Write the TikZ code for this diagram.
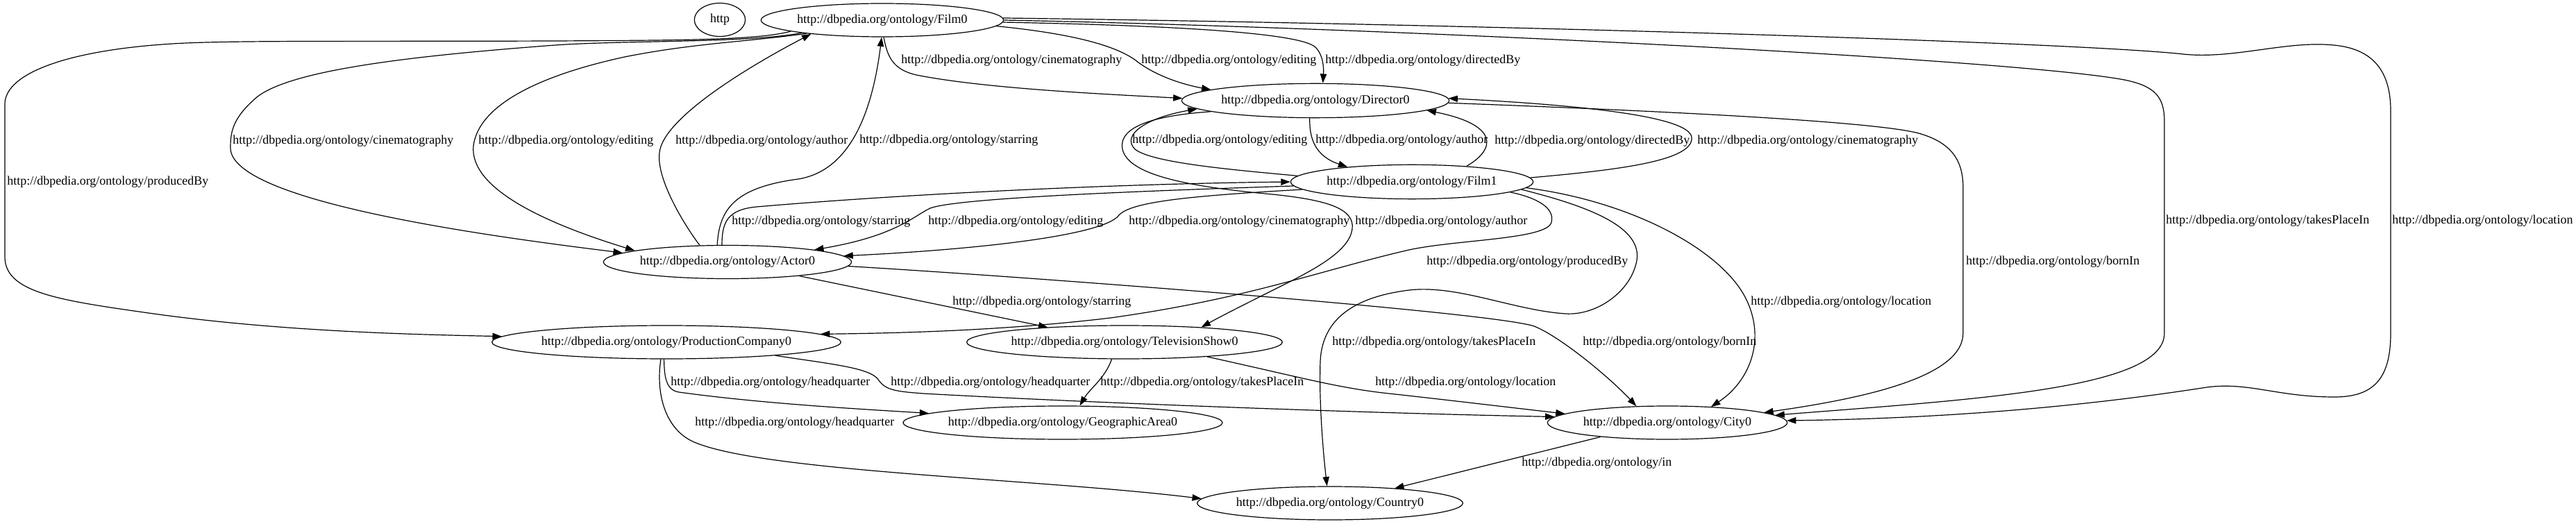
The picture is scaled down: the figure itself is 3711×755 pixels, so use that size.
\documentclass[tikz,border=0pt]{standalone}
\usepackage{fontspec}
\setmainfont{Liberation Serif}
\usetikzlibrary{arrows.meta,shapes.geometric}
\begin{document}
\begin{tikzpicture}[x=0.75pt,y=-0.75pt,
  nd/.style={draw,ellipse,inner xsep=-20pt,inner ysep=0pt,minimum height=36pt,line width=0.9pt,font=\fontsize{13.5}{16}\selectfont},
  lab/.style={anchor=west,inner sep=0pt,font=\fontsize{13.5}{16}\selectfont},
  conn/.style={draw,line width=0.9pt,-{Triangle[length=10pt,width=7pt]}}]
\fill[white] (0,0) rectangle (3711,755);
\useasboundingbox (0,0) rectangle (3711,755);
% nodes
\node[nd,minimum width=55pt] (http) at (1037,28.5) {http};
\node[nd,minimum width=262pt] (Film0) at (1271,29) {http://dbpedia.org/ontology/Film0};
\node[nd,minimum width=289pt,minimum height=37pt] (Director0) at (1895,145) {http://dbpedia.org/ontology/Director0};
\node[nd,minimum width=262pt,minimum height=37pt] (Film1) at (2034,262) {http://dbpedia.org/ontology/Film1};
\node[nd,minimum width=268pt] (Actor0) at (1048,377.5) {http://dbpedia.org/ontology/Actor0};
\node[nd,minimum width=377pt] (ProductionCompany0) at (960,493) {http://dbpedia.org/ontology/ProductionCompany0};
\node[nd,minimum width=341pt] (TelevisionShow0) at (1620,493) {http://dbpedia.org/ontology/TelevisionShow0};
\node[nd,minimum width=345pt] (GeographicArea0) at (1531,609) {http://dbpedia.org/ontology/GeographicArea0};
\node[nd,minimum width=259pt] (City0) at (2402,609) {http://dbpedia.org/ontology/City0};
\node[nd,minimum width=287pt] (Country0) at (1916,725) {http://dbpedia.org/ontology/Country0};
% edges from Film0
\draw[conn] (Film0.275) .. controls (1278,80) and (1285,100) .. (1320,108) .. controls (1420,128) and (1600,136) .. (Director0.179);
\node[lab] (l1) at (1298,87) {http://dbpedia.org/ontology/cinematography};
\draw[conn] (Film0.357) .. controls (1540,48) and (1610,65) .. (1640,90) .. controls (1670,112) and (1710,123) .. (Director0.174);
\node[lab] (l2) at (1644,87) {http://dbpedia.org/ontology/editing};
\draw[conn] (Film0.359) .. controls (1650,36) and (1870,45) .. (1895,68) .. controls (1907,80) and (1907,100) .. (Director0.67);
\node[lab] (l3) at (1909,87) {http://dbpedia.org/ontology/directedBy};
\draw[conn] (Film0.0) .. controls (2000,40) and (2900,85) .. (3060,115) .. controls (3105,124) and (3118,140) .. (3118,175) -- (3118,480) .. controls (3118,560) and (2850,575) .. (City0.4);
\node[lab] (l4) at (3120,318) {http://dbpedia.org/ontology/takesPlaceIn};
\draw[conn] (Film0.1) .. controls (2200,36) and (3000,62) .. (3145,78) .. controls (3220,86) and (3300,56) .. (3370,66) .. controls (3425,74) and (3444,110) .. (3444,160) -- (3444,480) .. controls (3444,545) and (3420,572) .. (3363,572) .. controls (3280,572) and (3240,550) .. (3179,558) .. controls (3000,586) and (2800,603) .. (City0.1);
\node[lab] (l5) at (3446,318) {http://dbpedia.org/ontology/location};
\draw[conn] (Film0.187) .. controls (1090,58) and (980,58) .. (800,59) .. controls (500,60) and (330,58) .. (249,63) .. controls (100,72) and (7,105) .. (7,150) -- (7,370) .. controls (7,420) and (80,432) .. (207,450) .. controls (400,478) and (600,482) .. (ProductionCompany0.178);
\node[lab] (l6) at (10,262) {http://dbpedia.org/ontology/producedBy};
\draw[conn] (Film0.189) .. controls (1080,62) and (900,58) .. (800,65) .. controls (600,80) and (420,100) .. (370,140) .. controls (335,170) and (332,190) .. (332,213) .. controls (332,290) and (700,340) .. (Actor0.175);
\node[lab] (l7) at (335,203) {http://dbpedia.org/ontology/cinematography};
\draw[conn] (Film0.190) .. controls (1080,60) and (1000,62) .. (900,82) .. controls (780,108) and (690,150) .. (682,210) .. controls (676,270) and (780,320) .. (Actor0.173);
\node[lab] (l8) at (689,203) {http://dbpedia.org/ontology/editing};
% Actor0 to Film0
\draw[conn] (Actor0.149) .. controls (990,330) and (945,260) .. (950,220) .. controls (955,170) and (1080,95) .. (Film0.191);
\node[lab] (l9) at (973,203) {http://dbpedia.org/ontology/author};
\draw[conn] (Actor0.121) .. controls (1036,300) and (1060,270) .. (1150,258) .. controls (1230,245) and (1258,150) .. (Film0.268);
\node[lab] (l10) at (1238,202) {http://dbpedia.org/ontology/starring};
% Director0 / Film1
\draw[conn] (Director0.252) .. controls (1886,200) and (1895,225) .. (Film1.167);
\node[lab] (l11) at (1895,202) {http://dbpedia.org/ontology/author};
\draw[conn] (Film1.177) .. controls (1780,245) and (1660,235) .. (1635,215) .. controls (1615,195) and (1650,170) .. (Director0.184);
\node[lab] (l12) at (1631,202) {http://dbpedia.org/ontology/editing};
\draw[conn] (Director0.186) .. controls (1640,168) and (1612,190) .. (1617,215) .. controls (1625,250) and (1700,268) .. (1833,280) .. controls (1910,288) and (1952,300) .. (1948,330) .. controls (1944,360) and (1900,385) .. (1850,410) .. controls (1800,435) and (1760,455) .. (TelevisionShow0.11);
\node[lab] (l13) at (1952,319) {http://dbpedia.org/ontology/author};
\draw[conn] (Film1.16) .. controls (2155,215) and (2160,180) .. (Director0.355);
\node[lab] (l14) at (2153,203) {http://dbpedia.org/ontology/directedBy};
\draw[conn] (Film1.2) .. controls (2330,245) and (2440,232) .. (2437,198) .. controls (2434,165) and (2250,150) .. (Director0.1);
\node[lab] (l15) at (2445,203) {http://dbpedia.org/ontology/cinematography};
\draw[conn] (Director0.359) .. controls (2400,160) and (2700,175) .. (2764,192) .. controls (2810,205) and (2828,230) .. (2828,270) -- (2828,480) .. controls (2828,540) and (2700,572) .. (City0.6);
\node[lab] (l16) at (2832,377) {http://dbpedia.org/ontology/bornIn};
% Actor0 / Film1
\draw[conn] (Actor0.108) .. controls (1040,320) and (1048,302) .. (1090,298) .. controls (1300,280) and (1600,265) .. (Film1.180);
\node[lab] (l17) at (1054,319) {http://dbpedia.org/ontology/starring};
\draw[conn] (Film1.182) .. controls (1650,275) and (1380,285) .. (1340,300) .. controls (1315,312) and (1290,340) .. (Actor0.8);
\node[lab] (l18) at (1337,319) {http://dbpedia.org/ontology/editing};
\draw[conn] (Film1.184) .. controls (1720,282) and (1630,290) .. (1612,310) .. controls (1590,340) and (1400,360) .. (Actor0.3);
\node[lab] (l19) at (1626,319) {http://dbpedia.org/ontology/cinematography};
\draw[conn] (Actor0.358) .. controls (1500,400) and (2150,450) .. (2210,470) .. controls (2248,485) and (2320,545) .. (City0.152);
\node[lab] (l20) at (2280,493) {http://dbpedia.org/ontology/bornIn};
\draw[conn] (Actor0.349) -- (TelevisionShow0.169);
\node[lab] (l21) at (1372,435) {http://dbpedia.org/ontology/starring};
% Film1 downwards
\draw[conn] (Film1.354) .. controls (2215,285) and (2240,300) .. (2235,320) .. controls (2230,345) and (2100,345) .. (2030,360) .. controls (1900,390) and (1800,430) .. (1600,458) .. controls (1450,476) and (1300,480) .. (ProductionCompany0.3);
\node[lab] (l22) at (2055,377) {http://dbpedia.org/ontology/producedBy};
\draw[conn] (Film1.356) .. controls (2300,300) and (2365,330) .. (2358,375) .. controls (2350,420) and (2300,455) .. (2255,452) .. controls (2180,447) and (2100,410) .. (2030,418) .. controls (1950,428) and (1905,460) .. (1902,520) .. controls (1900,580) and (1906,650) .. (Country0.100);
\node[lab] (l23) at (1919,493) {http://dbpedia.org/ontology/takesPlaceIn};
\draw[conn] (Film1.357) .. controls (2350,290) and (2480,360) .. (2515,430) .. controls (2545,490) and (2520,550) .. (City0.20);
\node[lab] (l24) at (2522,435) {http://dbpedia.org/ontology/location};
% TelevisionShow0
\draw[conn] (TelevisionShow0.350) .. controls (1880,545) and (1930,560) .. (2010,568) .. controls (2100,578) and (2200,590) .. (City0.175);
\node[lab] (l25) at (1981,551) {http://dbpedia.org/ontology/location};
\draw[conn] (TelevisionShow0.233) .. controls (1592,545) and (1570,560) .. (GeographicArea0.45);
\node[lab] (l26) at (1585,551) {http://dbpedia.org/ontology/takesPlaceIn};
% ProductionCompany0
\draw[conn] (ProductionCompany0.262) .. controls (957,545) and (960,562) .. (978,565) .. controls (1100,582) and (1250,590) .. (GeographicArea0.176);
\node[lab] (l27) at (966,551) {http://dbpedia.org/ontology/headquarter};
\draw[conn] (ProductionCompany0.353) .. controls (1200,525) and (1255,530) .. (1266,548) .. controls (1276,562) and (1290,564) .. (1330,567) .. controls (1600,582) and (2000,596) .. (City0.177);
\node[lab] (l28) at (1283,551) {http://dbpedia.org/ontology/headquarter};
\draw[conn] (ProductionCompany0.252) .. controls (944,570) and (960,620) .. (1000,637) .. controls (1100,680) and (1500,690) .. (Country0.178);
\node[lab] (l29) at (1001,609) {http://dbpedia.org/ontology/headquarter};
% City0
\draw[conn] (City0.192) -- (Country0.13);
\node[lab] (l30) at (2192,667) {http://dbpedia.org/ontology/in};
\end{tikzpicture}
\end{document}
